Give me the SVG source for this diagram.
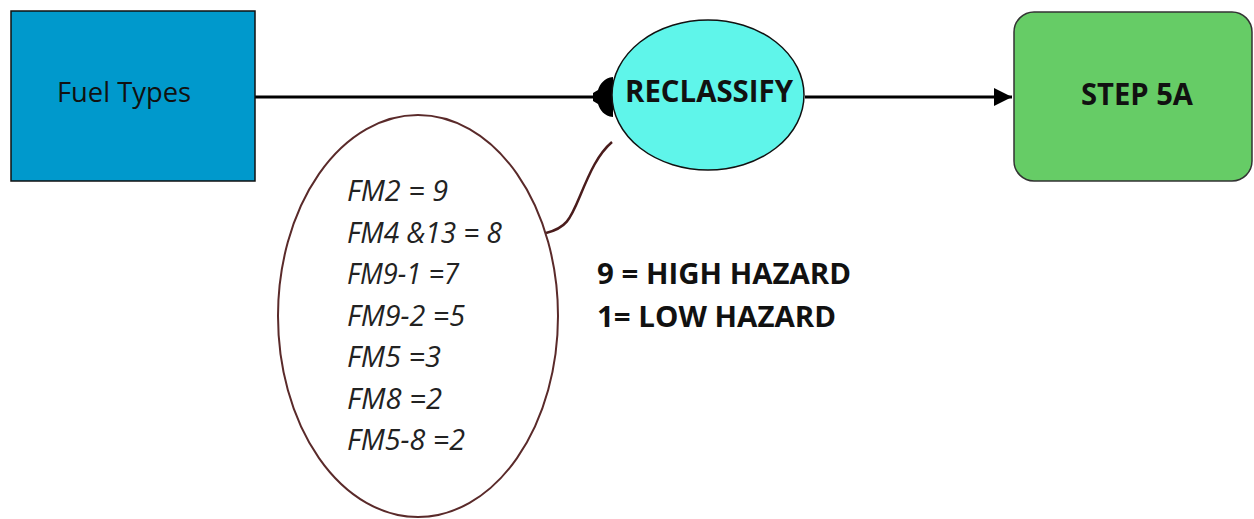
<svg xmlns="http://www.w3.org/2000/svg" width="1254" height="519" viewBox="0 0 1254 519">
  <style>
    .lbl { font-family: "Open Sans", "Liberation Sans", sans-serif; fill: #111; }
    .bold { font-weight: bold; }
    .fm { font-family: "Open Sans", "Liberation Sans", sans-serif; font-style: italic; font-size: 30px; fill: #222; }
    .edge { stroke: #000; stroke-width: 3; fill: none; }
  </style>
  <defs>
    <marker id="arrow" viewBox="0 0 10 10" refX="10" refY="5" markerWidth="6" markerHeight="6" orient="auto" markerUnits="strokeWidth">
      <path d="M0,0 L10,5 L0,10 z" fill="#000"/>
    </marker>
  </defs>
  <rect width="1254" height="519" fill="#fff"/>

  <g id="connectors">
    <line class="edge" x1="247" y1="97" x2="600" y2="97"/>
    <rect x="244" y="94" width="6" height="6" fill="#000"/>
    <!-- flared tail where the line meets the ellipse -->
    <path d="M613,77 C604,78 600,84 598,90 L593,93 L593,101 L598,104 C600,110 604,116 613,117 Z" fill="#000"/>
    <line class="edge" x1="805" y1="97" x2="1012" y2="97" marker-end="url(#arrow)"/>
    <path d="M612,142 C598,154 590,172 580,196 C570,220 566,228 546,233" fill="none" stroke="#4a1c1c" stroke-width="2.5"/>
  </g>

  <g id="fuel-types">
    <rect x="11" y="11" width="244" height="170" fill="#0099cc" stroke="#111" stroke-width="1.5"/>
    <text class="lbl" x="124" y="102" font-size="28" text-anchor="middle" textLength="134" lengthAdjust="spacingAndGlyphs">Fuel Types</text>
  </g>

  <g id="reclassify">
    <ellipse cx="708" cy="95" rx="96" ry="75" fill="#5ff5ea" stroke="#111" stroke-width="1.5"/>
    <text class="lbl bold" x="709" y="102" font-size="30" text-anchor="middle" textLength="168" lengthAdjust="spacingAndGlyphs">RECLASSIFY</text>
  </g>

  <g id="step-5a">
    <rect x="1014" y="12" width="238" height="169" rx="20" ry="20" fill="#66cc66" stroke="#333" stroke-width="1.5"/>
    <text class="lbl bold" x="1137" y="105" font-size="31" text-anchor="middle" textLength="112" lengthAdjust="spacingAndGlyphs">STEP 5A</text>
  </g>

  <g id="fuel-models">
    <ellipse cx="418" cy="316" rx="140" ry="201" fill="#fff" stroke="#5a2a2a" stroke-width="2"/>
    <text class="fm" x="347" y="201" textLength="101" lengthAdjust="spacingAndGlyphs">FM2 = 9</text>
    <text class="fm" x="347" y="243" textLength="155" lengthAdjust="spacingAndGlyphs">FM4 &amp;13 = 8</text>
    <text class="fm" x="347" y="284" textLength="112" lengthAdjust="spacingAndGlyphs">FM9-1 =7</text>
    <text class="fm" x="347" y="326" textLength="118" lengthAdjust="spacingAndGlyphs">FM9-2 =5</text>
    <text class="fm" x="347" y="367" textLength="94" lengthAdjust="spacingAndGlyphs">FM5 =3</text>
    <text class="fm" x="347" y="409" textLength="95" lengthAdjust="spacingAndGlyphs">FM8 =2</text>
    <text class="fm" x="347" y="450" textLength="118" lengthAdjust="spacingAndGlyphs">FM5-8 =2</text>
  </g>

  <g id="hazard-legend">
    <text class="lbl bold" x="597" y="284" font-size="29" textLength="254" lengthAdjust="spacingAndGlyphs">9 = HIGH HAZARD</text>
    <text class="lbl bold" x="597" y="327" font-size="29" textLength="239" lengthAdjust="spacingAndGlyphs">1= LOW HAZARD</text>
  </g>
</svg>
